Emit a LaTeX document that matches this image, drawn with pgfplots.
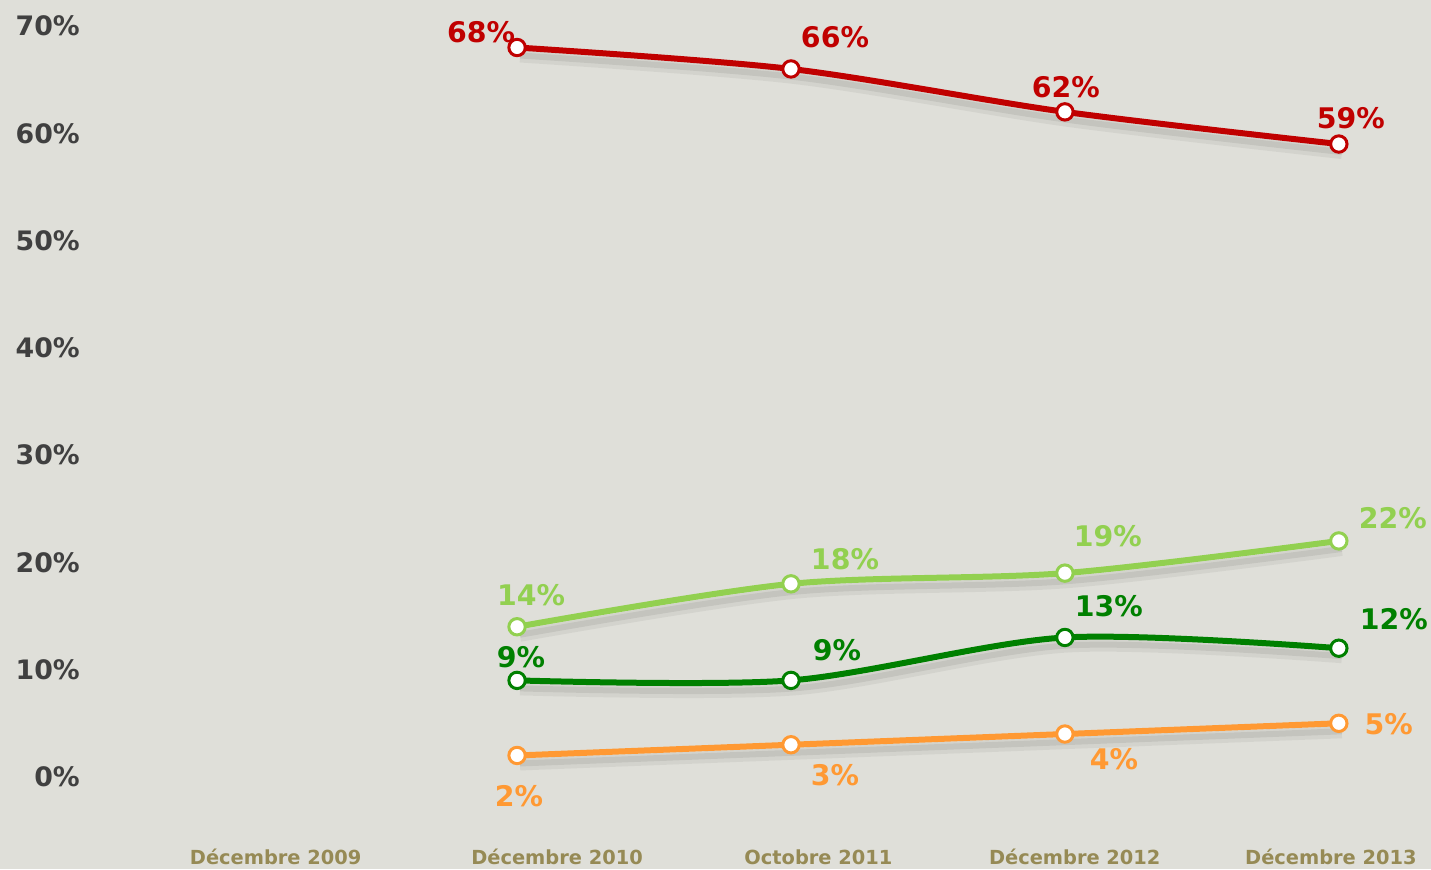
\documentclass[border=0pt]{standalone}
\usepackage{pgfplots}
\pgfplotsset{compat=1.18}
\usepackage{pgfplotstable}
\usepackage{fontspec}
\setmainfont{DejaVu Sans}
\definecolor{bg}{HTML}{DFDFD9}
\definecolor{tickgray}{HTML}{404040}
\definecolor{olive}{HTML}{968A55}
\definecolor{cred}{HTML}{C00000}
\definecolor{clgreen}{HTML}{92D050}
\definecolor{cdgreen}{HTML}{008000}
\definecolor{corange}{HTML}{FF9933}

\pgfplotstableread{
x y dx dy
1 68 -18 7.5
2 66 22 16
3 62 0.5 12.5
4 59 6 13
}\tabred
\pgfplotstableread{
x y dx dy
1 14 7 16
2 18 27 12.5
3 19 21.5 18.5
4 22 27 11.5
}\tablgreen
\pgfplotstableread{
x y dx dy
1 9 2 11.5
2 9 23 15
3 13 22 15.5
4 12 27.5 14.5
}\tabdgreen
\pgfplotstableread{
x y dx dy
1 2 1 -20.5
2 3 22 -15
3 4 24.5 -12.5
4 5 25 -0.5
}\taborange

\pgfplotsset{
  shadowa/.style={forget plot, no markers, smooth, line width=6bp, black, opacity=0.05, xshift=1.5bp, yshift=-4.5bp},
  shadowb/.style={forget plot, no markers, smooth, line width=3bp, black, opacity=0.07, xshift=1.5bp, yshift=-4bp},
  series/.style={
    smooth, line width=3bp, color=#1,
    mark=*, mark size=4.1bp,
    mark options={fill=white, draw=#1, line width=1.5bp},
    point meta=y,
    nodes near coords={\pgfmathprintnumber{\pgfplotspointmeta}\%},
    visualization depends on={\thisrow{dx}\as\dx},
    visualization depends on={\thisrow{dy}\as\dy},
    every node near coord/.append style={anchor=center, inner sep=0pt,
      xshift=\dx bp, yshift=\dy bp, text=#1,
      font=\fontsize{14.2bp}{16bp}\selectfont\bfseries},
  },
}

\begin{document}
\begin{tikzpicture}
\begin{axis}[
  x=137bp, y=5.365bp,
  xmin=-0.8869, xmax=4.3358,
  ymin=-8.574, ymax=72.41,
  enlargelimits=false,
  clip=false,
  axis background/.style={fill=bg},
  axis line style={draw=none},
  major tick length=0pt,
  ytick={0,10,20,30,40,50,60,70},
  yticklabel={\pgfmathprintnumber{\tick}\%},
  yticklabel style={anchor=east, inner sep=0pt, xshift=40bp, text=tickgray,
    font=\fontsize{13.4bp}{16bp}\selectfont\bfseries},
  xtick={0.1186,1.146,2.100,3.036,3.971},
  xticklabels={Décembre 2009,Décembre 2010,Octobre 2011,Décembre 2012,Décembre 2013},
  xticklabel style={anchor=base, inner sep=0pt, yshift=2bp, text=olive,
    font=\fontsize{9.7bp}{12bp}\selectfont\bfseries},
  /pgf/number format/assume math mode=true,
]
\addplot[shadowa] table[x=x,y=y] {\tabred};
\addplot[shadowa] table[x=x,y=y] {\tablgreen};
\addplot[shadowa] table[x=x,y=y] {\tabdgreen};
\addplot[shadowa] table[x=x,y=y] {\taborange};
\addplot[shadowb] table[x=x,y=y] {\tabred};
\addplot[shadowb] table[x=x,y=y] {\tablgreen};
\addplot[shadowb] table[x=x,y=y] {\tabdgreen};
\addplot[shadowb] table[x=x,y=y] {\taborange};

\addplot[series=cred] table[x=x,y=y] {\tabred};
\addplot[series=clgreen] table[x=x,y=y] {\tablgreen};
\addplot[series=cdgreen] table[x=x,y=y] {\tabdgreen};
\addplot[series=corange] table[x=x,y=y] {\taborange};
\end{axis}
\end{tikzpicture}
\end{document}
